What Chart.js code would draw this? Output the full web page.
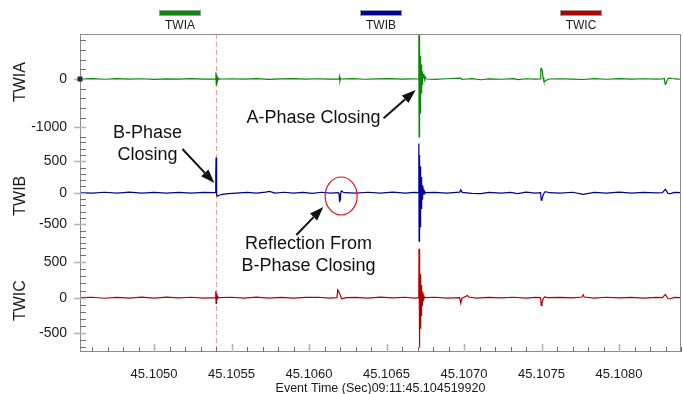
<!DOCTYPE html>
<html>
<head>
<meta charset="utf-8">
<title>TWI waveforms</title>
<script src="https://cdn.jsdelivr.net/npm/chart.js@4/dist/chart.umd.min.js"></script>
<style>
  html, body { margin: 0; padding: 0; background: #fff; }
  #wrap { width: 683px; height: 394px; }
</style>
</head>
<body>
<div id="wrap"><canvas id="twiChart" width="683" height="394"></canvas></div>
<script>
/* travelling-wave current traces, three phases stacked on one time axis */

const SERIES_NAMES  = ['TWIA', 'TWIB', 'TWIC'];
const SERIES_COLORS = ['#0a870a', '#00009a', '#b00000'];

const X_MIN = 45.104522;
const X_MAX = 45.1084;
const X_TICKS = [45.1050, 45.1055, 45.1060, 45.1065, 45.1070, 45.1075, 45.1080];
const MARKER_TIMES = [45.10540];   // B-phase closing cursor

const A_RANGE = [-1263, 932];
const B_RANGE = [-846, 837];
const C_RANGE = [-765, 728];
const A_TICKS = [-1000, 0];
const B_TICKS = [-500, 0, 500];
const C_TICKS = [-500, 0, 500];

/* ── TWIA ── */
const twiaTime = [
  45.104522, 45.10460, 45.10468, 45.10476, 45.10484, 45.10492, 45.10500, 45.10508, 45.10516, 45.10524, 45.10532,
  45.105397, 45.105399, 45.105401, 45.105403, 45.105405, 45.105407, 45.10541, 45.105414, 45.10542, 45.10543,
  45.10550, 45.10558, 45.10566, 45.10574, 45.10582, 45.10590, 45.10598, 45.10606, 45.10613,
  45.106193, 45.106196, 45.106199, 45.106203, 45.10621,
  45.10628, 45.10636, 45.10644, 45.10652, 45.10660, 45.10666,
  45.106707, 45.1067085, 45.10671, 45.1067115, 45.106713, 45.1067145, 45.106716, 45.1067175, 45.106719, 45.1067205, 45.106722, 45.1067235,
  45.106725, 45.1067265, 45.106728, 45.1067295, 45.106731, 45.1067325, 45.106734, 45.106736, 45.106739, 45.106742, 45.106746, 45.10675, 45.106756,
  45.10681, 45.10689, 45.106979, 45.106985, 45.10705, 45.107108, 45.10716, 45.10724, 45.10732, 45.107346, 45.10740, 45.10746,
  45.107493, 45.107495, 45.1075, 45.107505, 45.10751, 45.107515, 45.10752, 45.10753, 45.10755,
  45.10762, 45.10770, 45.107769, 45.10784, 45.10792, 45.10800, 45.10808, 45.10816, 45.10824,
  45.10828, 45.108292, 45.108298, 45.108304, 45.10831, 45.10832, 45.10834, 45.10838, 45.1084
];
const twiaVal = [
  0, 6, -5, 8, -4, 5, -6, 4, -3, 6, -2,
  0, 140, -120, 90, -70, 50, -30, 20, -5, 0,
  5, -4, 7, -6, 4, 8, -3, 5, -4,
  0, 50, -40, 15, 0,
  6, -5, 4, 6, -4, 3,
  0, 1100, -1200, 900, -760, 620, -700, 480, -560, 380, -420, 300,
  -300, 220, -200, 160, -120, 120, -60, 100, 20, 70, 10, 40, 0,
  -6, 5, 20, -10, 6, -15, 4, -5, 7, -12, 5, -4,
  0, 210, 220, 170, 30, -40, -50, -25, 0,
  5, -4, -10, 6, -5, 7, -3, 5, -4,
  0, 15, -110, -90, -30, 20, 10, -4, 0
];

/* ── TWIB ── */
const twibTime = [
  45.104522, 45.10460, 45.10468, 45.10476, 45.10484, 45.10492, 45.10500, 45.10508, 45.10516, 45.10524, 45.10532,
  45.105395, 45.105398, 45.1054, 45.105402, 45.105405, 45.105409, 45.105414, 45.10542, 45.10544, 45.10548, 45.10553,
  45.10560, 45.10566, 45.10572, 45.105745, 45.10578, 45.10584, 45.10590, 45.10596, 45.10602, 45.10608, 45.10614,
  45.10619, 45.106194, 45.106197, 45.1062, 45.106203, 45.106207, 45.106212, 45.10622, 45.10623,
  45.10630, 45.10638, 45.10646, 45.10654, 45.10662, 45.10668,
  45.106707, 45.1067085, 45.10671, 45.1067115, 45.106713, 45.1067145, 45.106716, 45.1067175, 45.106719, 45.1067205, 45.106722, 45.1067235,
  45.106725, 45.1067265, 45.106728, 45.1067295, 45.106731, 45.1067325, 45.106735, 45.106738, 45.106742, 45.106746, 45.10675,
  45.10681, 45.10689, 45.106972, 45.106979, 45.106988, 45.10705, 45.107108, 45.10716, 45.10724, 45.10730, 45.107346, 45.10740, 45.10746,
  45.107494, 45.107498, 45.107503, 45.10751, 45.10752, 45.10753, 45.10755,
  45.10762, 45.10770, 45.107769, 45.10784, 45.10792, 45.10800, 45.10808, 45.10816, 45.10824,
  45.10828, 45.108292, 45.108299, 45.108306, 45.108315, 45.10833, 45.10836, 45.1084
];
const twibVal = [
  0, -6, 7, -5, 8, -7, 6, -8, 5, -6, 4,
  0, 300, 560, 200, -40, -55, -50, -40, -25, -15, -5,
  6, -7, 8, 20, -6, 7, -8, 5, -10, 7, -5,
  0, -20, -150, -110, -30, 20, 25, 8, 0,
  -6, 7, -5, 8, -7, 5,
  0, 780, -770, 600, -620, 520, -540, 420, -450, 330, -360, 250,
  -260, 180, -180, 120, -110, 70, -60, 40, -20, 20, 0,
  6, -7, 10, 45, 5, -10, -15, 6, -8, 5, -15, 8, -5,
  0, -120, -100, -40, 10, 15, 0,
  -6, 7, -25, 6, -8, 9, -5, 6, -4,
  0, 35, 55, 30, -10, -15, 5, 0
];

/* ── TWIC ── */
const twicTime = [
  45.104522, 45.10460, 45.10468, 45.10476, 45.10484, 45.10492, 45.10500, 45.10508, 45.10516, 45.10524, 45.10532,
  45.105396, 45.105398, 45.1054, 45.105402, 45.105404, 45.105407, 45.10541, 45.105415, 45.10542,
  45.10550, 45.10558, 45.10566, 45.10574, 45.10582, 45.10590, 45.10598, 45.10606, 45.10613,
  45.10618, 45.106185, 45.10619, 45.106196, 45.106203, 45.10621, 45.10622, 45.10624,
  45.10630, 45.10638, 45.10646, 45.10654, 45.10662, 45.10668,
  45.106708, 45.1067095, 45.106711, 45.1067125, 45.106714, 45.1067155, 45.106717, 45.1067185, 45.10672, 45.1067215, 45.106723,
  45.1067245, 45.106726, 45.1067275, 45.106729, 45.1067305, 45.106733, 45.106736, 45.10674, 45.106745, 45.10675,
  45.10681, 45.10689, 45.106972, 45.106979, 45.106986, 45.107022, 45.10703, 45.10708, 45.10716, 45.10724, 45.10732, 45.10740, 45.10746,
  45.107494, 45.107498, 45.107503, 45.10751, 45.10752, 45.10754,
  45.10762, 45.10770, 45.107762, 45.107769, 45.107776, 45.10784, 45.10792, 45.10800, 45.10808, 45.10816, 45.10824,
  45.10828, 45.108292, 45.108299, 45.108306, 45.108315, 45.10833, 45.10836, 45.1084
];
const twicVal = [
  0, 6, -8, 5, -6, 8, -5, 7, -4, 6, -5,
  0, 90, -80, 60, -40, 25, -10, 5, 0,
  6, -5, 8, -6, 5, -7, 4, 6, -5,
  0, 110, 95, 60, 30, -15, -10, 0,
  5, -6, 7, -4, 6, -5,
  0, 690, -700, 520, -520, 420, -430, 330, -330, 250, -250,
  180, -170, 120, -110, 80, -50, 40, -20, 10, 0,
  6, -5, 0, -80, -10, 30, 10, -6, 5, -4, 6, -5, 4,
  0, -110, -80, -20, 10, 0,
  5, -4, 10, 40, 10, -5, 6, -4, 5, -6, 4,
  0, 30, 45, 20, -12, -15, 4, 0
];

/* callouts: anchor points are [time, value on the named axis] */
const NOTES = [
  { axis: 'yA', lines: ['A-Phase Closing'], at: [45.106029, -814],
    from: [45.106481, -814], to: [45.106688, -228] },
  { axis: 'yB', lines: ['B-Phase', 'Closing'], at: [45.104957, 940],
    from: [45.105183, 694], to: [45.105389, 154] },
  { axis: 'yB', lines: ['Reflection From', 'B-Phase Closing'], at: [45.105996, -822],
    from: [45.105918, -671], to: [45.106092, -227] },
];
const RING = { axis: 'yB', at: [45.106207, -52], rx: 16, ry: 19 };

const FONT = "'Liberation Sans', Arial, Helvetica, sans-serif";
Chart.defaults.font.family = FONT;
Chart.defaults.color = '#1a1a1a';

function toPoints(times, values) {
  return times.map((t, i) => ({ x: t, y: values[i] }));
}

function stackedY(range, majors, order) {
  return {
    type: 'linear',
    position: 'left',
    stack: 'traces',
    stackWeight: 1,
    weight: order,
    bounds: 'data',
    min: range[0],
    max: range[1],
    afterBuildTicks: s => { s.ticks = majors.map(v => ({ value: v })); },
    afterFit: s => { s.width = 80; },
    grid: { display: false, drawTicks: true, tickLength: 5 },
    border: { display: false },
    ticks: { padding: 8, font: { size: 14 }, color: '#1a1a1a', callback: v => String(v) },
  };
}

function drawArrow(ctx, x0, y0, x1, y1) {
  const ang = Math.atan2(y1 - y0, x1 - x0);
  const len = 14, half = 5;
  const bx = x1 - len * Math.cos(ang);
  const by = y1 - len * Math.sin(ang);
  ctx.lineWidth = 2;
  ctx.beginPath();
  ctx.moveTo(x0, y0);
  ctx.lineTo(bx, by);
  ctx.stroke();
  ctx.beginPath();
  ctx.moveTo(x1, y1);
  ctx.lineTo(bx + half * Math.sin(ang), by - half * Math.cos(ang));
  ctx.lineTo(bx - half * Math.sin(ang), by + half * Math.cos(ang));
  ctx.closePath();
  ctx.fill();
}

const traceDecor = {
  id: 'traceDecor',
  beforeDatasetsDraw(chart) {
    const { ctx, chartArea: ca, scales: { x } } = chart;
    ctx.save();
    ctx.strokeStyle = '#f2a0a0';
    ctx.lineWidth = 1;
    ctx.setLineDash([5, 3]);
    MARKER_TIMES.forEach(t => {
      const px = Math.round(x.getPixelForValue(t)) + 0.5;
      ctx.beginPath();
      ctx.moveTo(px, ca.top);
      ctx.lineTo(px, ca.bottom);
      ctx.stroke();
    });
    ctx.restore();
  },
  afterDatasetsDraw(chart) {
    const { ctx, chartArea: ca, scales } = chart;
    const left = Math.round(ca.left);
    const bottom = Math.round(ca.bottom);
    ctx.save();

    // plot frame
    ctx.strokeStyle = '#8c8c8c';
    ctx.lineWidth = 1;
    ctx.strokeRect(left + 0.5, Math.round(ca.top) + 0.5, Math.round(ca.width) - 1, Math.round(ca.height) - 1);

    // y ticks: long light major, short dark minor (inside)
    [['yA', 200], ['yB', 100], ['yC', 100]].forEach(([id, step]) => {
      const s = scales[id];
      for (let v = Math.ceil(s.min / step) * step; v <= s.max; v += step) {
        const major = s.ticks.some(t => t.value === v);
        const py = Math.round(s.getPixelForValue(v)) + 0.5;
        ctx.beginPath();
        if (major) {
          ctx.strokeStyle = '#b4b4b4';
          ctx.lineWidth = 1.6;
          ctx.moveTo(left - 6, py);
          ctx.lineTo(left + 6, py);
        } else {
          ctx.strokeStyle = '#6e6e6e';
          ctx.lineWidth = 1;
          ctx.moveTo(left, py);
          ctx.lineTo(left + 6, py);
        }
        ctx.stroke();
      }
    });

    // x ticks, every 0.0001 s
    const xs = scales.x;
    for (let k = Math.ceil(xs.min / 0.0001); k * 0.0001 <= xs.max; k++) {
      const v = k * 0.0001;
      const major = X_TICKS.some(t => Math.abs(t - v) < 1e-9);
      const px = Math.round(xs.getPixelForValue(v)) + 0.5;
      ctx.beginPath();
      ctx.strokeStyle = major ? '#b4b4b4' : '#6e6e6e';
      ctx.lineWidth = major ? 1.6 : 1;
      ctx.moveTo(px, bottom);
      ctx.lineTo(px, bottom - (major ? 8 : 5));
      ctx.stroke();
    }

    // cursor marker on the TWIA zero line
    const z0 = scales.yA.getPixelForValue(0);
    ctx.fillStyle = '#2a2a2a';
    ctx.fillRect(left - 2.5, z0 - 2.5, 5, 5);

    // legend: bar above label
    chart.data.datasets.forEach((ds, i) => {
      const cx = Math.round(ca.left + ca.width * (2 * i + 1) / 6);
      ctx.fillStyle = ds.borderColor;
      ctx.fillRect(cx - 20, 11, 40, 4);
      ctx.strokeStyle = '#9a9a9a';
      ctx.lineWidth = 1;
      ctx.strokeRect(cx - 20.5, 10.5, 41, 5);
      ctx.fillStyle = '#1a1a1a';
      ctx.font = '12px ' + FONT;
      ctx.textAlign = 'center';
      ctx.textBaseline = 'middle';
      ctx.fillText(ds.label, cx, 26);
    });

    // rotated trace names
    ['yA', 'yB', 'yC'].forEach((id, i) => {
      const y = scales[id].getPixelForValue(0) + 3;
      ctx.save();
      ctx.translate(21, y);
      ctx.rotate(-Math.PI / 2);
      ctx.fillStyle = '#1a1a1a';
      ctx.font = '16px ' + FONT;
      ctx.textAlign = 'center';
      ctx.textBaseline = 'middle';
      ctx.fillText(SERIES_NAMES[i], 0, 0);
      ctx.restore();
    });

    // callouts
    ctx.fillStyle = '#111';
    ctx.strokeStyle = '#111';
    ctx.font = '18px ' + FONT;
    ctx.textAlign = 'center';
    ctx.textBaseline = 'middle';
    NOTES.forEach(n => {
      const ys = scales[n.axis];
      const tx = xs.getPixelForValue(n.at[0]);
      const ty = ys.getPixelForValue(n.at[1]);
      n.lines.forEach((line, j) => ctx.fillText(line, tx, ty + j * 22));
      drawArrow(ctx,
        xs.getPixelForValue(n.from[0]), ys.getPixelForValue(n.from[1]),
        xs.getPixelForValue(n.to[0]), ys.getPixelForValue(n.to[1]));
    });

    // ring round the reflection
    ctx.strokeStyle = '#e01414';
    ctx.lineWidth = 1.2;
    ctx.beginPath();
    ctx.ellipse(xs.getPixelForValue(RING.at[0]), scales[RING.axis].getPixelForValue(RING.at[1]),
      RING.rx, RING.ry, 0, 0, Math.PI * 2);
    ctx.stroke();

    ctx.restore();
  },
};

new Chart(document.getElementById('twiChart'), {
  type: 'line',
  data: {
    datasets: [
      { label: SERIES_NAMES[0], data: toPoints(twiaTime, twiaVal), yAxisID: 'yA', borderColor: SERIES_COLORS[0] },
      { label: SERIES_NAMES[1], data: toPoints(twibTime, twibVal), yAxisID: 'yB', borderColor: SERIES_COLORS[1] },
      { label: SERIES_NAMES[2], data: toPoints(twicTime, twicVal), yAxisID: 'yC', borderColor: SERIES_COLORS[2] },
    ],
  },
  options: {
    responsive: false,
    animation: false,
    devicePixelRatio: 1,
    elements: {
      point: { radius: 0 },
      line: { borderWidth: 1.2, tension: 0, fill: false },
    },
    layout: { padding: { top: 34, right: 2, left: 0, bottom: 0 } },
    plugins: { legend: { display: false }, tooltip: { enabled: false } },
    scales: {
      x: {
        type: 'linear',
        position: 'bottom',
        bounds: 'data',
        min: X_MIN,
        max: X_MAX,
        afterBuildTicks: s => { s.ticks = X_TICKS.map(v => ({ value: v })); },
        afterFit: s => { s.height = 42; },
        grid: { display: false, drawTicks: false },
        border: { display: false },
        ticks: { padding: 15, autoSkip: false, maxRotation: 0, font: { size: 13 }, color: '#1a1a1a',
                 callback: v => Number(v).toFixed(4) },
        title: { display: true, text: 'Event Time (Sec)09:11:45.104519920', color: '#1a1a1a',
                 font: { size: 12.5, lineHeight: 1 }, padding: { top: 0, bottom: -1 } },
      },
      yA: stackedY(A_RANGE, A_TICKS, 3),
      yB: stackedY(B_RANGE, B_TICKS, 2),
      yC: stackedY(C_RANGE, C_TICKS, 1),
    },
  },
  plugins: [traceDecor],
});
</script>
</body>
</html>
